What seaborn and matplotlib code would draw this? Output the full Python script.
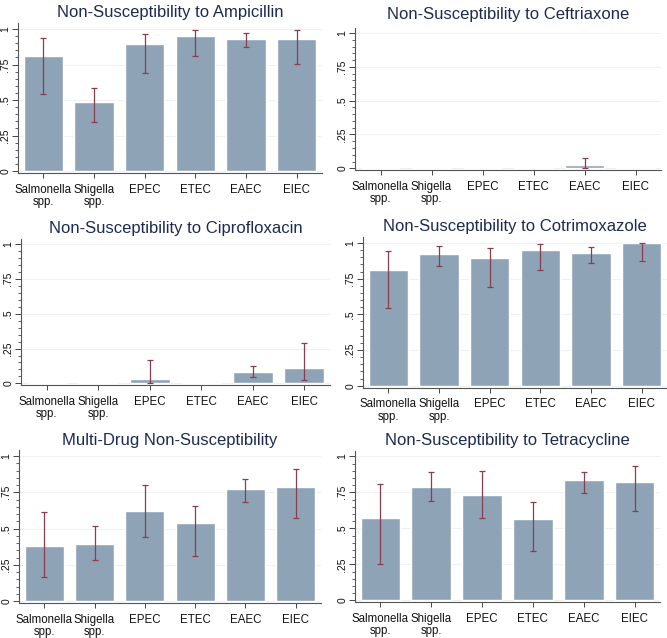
import numpy as np
import pandas as pd
import matplotlib
matplotlib.use("Agg")
import matplotlib.pyplot as plt
from matplotlib.ticker import MultipleLocator
import seaborn as sns

# pathogen groups on the x axis
groups = ["Salmonella\nspp.", "Shigella\nspp.", "EPEC", "ETEC", "EAEC", "EIEC"]

# proportion non-susceptible and 95% CI (lower, upper) per panel
ampicillin = [0.808, 0.485, 0.895, 0.951, 0.932, 0.930]
ampicillin_lo = [0.543, 0.342, 0.693, 0.808, 0.874, 0.756]
ampicillin_hi = [0.937, 0.588, 0.965, 0.995, 0.974, 0.993]

ceftriaxone = [0.0, 0.0, 0.0, 0.0, 0.025, 0.0]
ceftriaxone_lo = [np.nan, np.nan, np.nan, np.nan, 0.002, np.nan]
ceftriaxone_hi = [np.nan, np.nan, np.nan, np.nan, 0.074, np.nan]

ciprofloxacin = [0.0, 0.0, 0.029, 0.0, 0.079, 0.108]
ciprofloxacin_lo = [np.nan, np.nan, 0.001, np.nan, 0.043, 0.024]
ciprofloxacin_hi = [np.nan, np.nan, 0.170, np.nan, 0.127, 0.293]

cotrimoxazole = [0.813, 0.921, 0.895, 0.951, 0.932, 1.0]
cotrimoxazole_lo = [0.542, 0.841, 0.694, 0.808, 0.862, 0.871]
cotrimoxazole_hi = [0.942, 0.977, 0.965, 0.995, 0.970, 1.0]

multidrug = [0.382, 0.391, 0.623, 0.536, 0.772, 0.784]
multidrug_lo = [0.166, 0.280, 0.439, 0.313, 0.680, 0.575]
multidrug_hi = [0.616, 0.515, 0.798, 0.657, 0.844, 0.910]

tetracycline = [0.569, 0.785, 0.729, 0.563, 0.833, 0.819]
tetracycline_lo = [0.250, 0.688, 0.574, 0.340, 0.743, 0.620]
tetracycline_hi = [0.806, 0.889, 0.896, 0.683, 0.889, 0.935]

titles = ["Non-Susceptibility to Ampicillin", "Non-Susceptibility to Ceftriaxone",
          "Non-Susceptibility to Ciprofloxacin", "Non-Susceptibility to Cotrimoxazole",
          "Multi-Drug Non-Susceptibility", "Non-Susceptibility to Tetracycline"]

panels = [(ampicillin, ampicillin_lo, ampicillin_hi),
          (ceftriaxone, ceftriaxone_lo, ceftriaxone_hi),
          (ciprofloxacin, ciprofloxacin_lo, ciprofloxacin_hi),
          (cotrimoxazole, cotrimoxazole_lo, cotrimoxazole_hi),
          (multidrug, multidrug_lo, multidrug_hi),
          (tetracycline, tetracycline_lo, tetracycline_hi)]

# pixel geometry of each panel: x of left/right edge, y of value 0 and value 1, title centre y
W, H = 667, 638
geom = [(18, 322, 171.0, 29.0, 12),
        (355, 661, 168.3, 33.0, 15),
        (21, 330, 383.3, 244.3, 228),
        (363, 667, 385.7, 243.0, 227),
        (19, 321, 601.0, 456.0, 441),
        (355, 660, 600.3, 456.3, 441)]

sns.set_theme(style="white")
plt.rcParams['font.family'] = ['Liberation Sans', 'DejaVu Sans']

bar_color = "#8fa3b7"
err_color = "#8a3d4c"
title_color = "#1c2b4f"
ylo, yhi = -0.015, 1.04

fig = plt.figure(figsize=(W / 100, H / 100), dpi=100)
fig.patch.set_facecolor("white")

for (vals, lo, hi), title, (x0, x1, y0, y1, ty) in zip(panels, titles, geom):
    ppu = y0 - y1
    top_px = y1 - (yhi - 1) * ppu
    bot_px = y0 - ylo * ppu
    rect = [x0 / W, 1 - bot_px / H, (x1 - x0) / W, (bot_px - top_px) / H]
    ax = fig.add_axes(rect)

    df = pd.DataFrame({"group": groups, "value": vals, "lo": lo, "hi": hi})
    sns.barplot(data=df, x="group", y="value", color=bar_color, saturation=1,
                width=0.78, errorbar=None, ax=ax, zorder=2)
    pos = np.arange(len(groups))
    ax.errorbar(pos, df["value"], yerr=[df["value"] - df["lo"], df["hi"] - df["value"]],
                fmt="none", ecolor=err_color, elinewidth=0.9, capsize=2.2, capthick=0.9, zorder=3)

    ax.set_xlim(-0.5, 5.5)
    ax.set_ylim(ylo, yhi)
    ax.set_yticks([0, 0.25, 0.5, 0.75, 1])
    ax.set_yticklabels(["0", ".25", ".5", ".75", "1"], rotation=90, va="center", fontsize=7.5)
    ax.yaxis.set_minor_locator(MultipleLocator(0.05))
    ax.grid(axis="y", which="major", color="#eef2f4", linewidth=0.8, zorder=0)
    ax.set_axisbelow(True)
    ax.tick_params(axis="y", which="major", left=True, length=4, width=0.7, color="#444444", pad=1.5)
    ax.tick_params(axis="y", which="minor", left=True, length=2.2, width=0.6, color="#444444")
    ax.tick_params(axis="x", bottom=True, length=3.5, width=0.7, color="#444444", pad=4, labelsize=8.3)
    ax.set_xlabel("")
    ax.set_ylabel("")
    for lab in ax.get_xticklabels():
        lab.set_linespacing(1.05)
        lab.set_color("#111111")
    for lab in ax.get_yticklabels():
        lab.set_color("#111111")
    sns.despine(ax=ax)
    for s in ["left", "bottom"]:
        ax.spines[s].set_color("#555555")
        ax.spines[s].set_linewidth(0.8)

    fig.text((x0 + x1) / 2 / W, 1 - ty / H, title, ha="center", va="center",
             fontsize=12, color=title_color)

fig.savefig("out.png", dpi=100, facecolor="white")
